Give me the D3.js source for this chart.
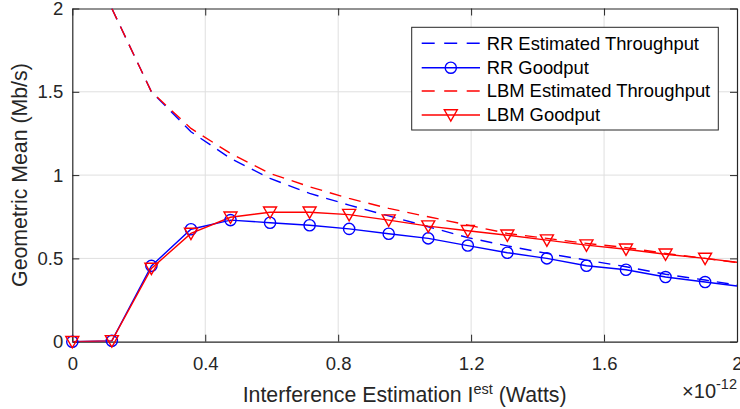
<!DOCTYPE html>
<html>
<head>
<meta charset="utf-8">
<script src="https://cdn.jsdelivr.net/npm/d3@7"></script>
<style>
  html, body { margin: 0; padding: 0; background: #fff; }
  svg { display: block; font-family: "Liberation Sans", Arial, Helvetica, sans-serif; }
</style>
</head>
<body>
<svg id="chart" width="740" height="409"></svg>
<script>
// ---- Data (x in units of 1e-12 Watts, y in Mb/s) ----
const xMarkers = [0, 0.119, 0.238, 0.357, 0.476, 0.595, 0.714, 0.833, 0.952, 1.071, 1.19, 1.309, 1.428, 1.547, 1.666, 1.785, 1.904];
const xEnd = 2;
const rrGoodput  = [0, 0.005, 0.455, 0.675, 0.73, 0.714, 0.699, 0.677, 0.648, 0.62, 0.577, 0.534, 0.50, 0.456, 0.432, 0.388, 0.358, 0.334];
const lbmGoodput = [0, 0.005, 0.44, 0.65, 0.747, 0.777, 0.777, 0.763, 0.73, 0.694, 0.666, 0.639, 0.61, 0.58, 0.555, 0.525, 0.50, 0.477];
// estimated throughput series start at the second x value
const rrEstimated  = [2.0, 1.5, 1.26, 1.10, 0.98, 0.89, 0.82, 0.755, 0.69, 0.625, 0.575, 0.53, 0.49, 0.45, 0.405, 0.37, 0.34];
const lbmEstimated = [2.0, 1.5, 1.28, 1.13, 1.01, 0.93, 0.86, 0.80, 0.75, 0.70, 0.65, 0.62, 0.59, 0.565, 0.53, 0.50, 0.475];
const xTicks = [0, 0.4, 0.8, 1.2, 1.6, 2];
const yTicks = [0, 0.5, 1, 1.5, 2];
const legendLabels = ["RR Estimated Throughput", "RR Goodput", "LBM Estimated Throughput", "LBM Goodput"];

// ---- Layout ----
const svg = d3.select("#chart");
const L = 72.3, R = 737, T = 8.5, B = 341.7;
const x = d3.scaleLinear().domain([0, 2]).range([L, R]);
const y = d3.scaleLinear().domain([0, 2]).range([B, T]);
const axisColor = "#262626";
const BLUE = "#0000ff", RED = "#ff0000";

const xLine = xMarkers.concat([xEnd]);
const mk = (xs, ys) => ys.map((v, i) => [xs[i], v]);
const rrG = mk(xLine, rrGoodput);
const lbmG = mk(xLine, lbmGoodput);
const rrE = mk(xLine.slice(1), rrEstimated);
const lbmE = mk(xLine.slice(1), lbmEstimated);

// clip
svg.append("defs").append("clipPath").attr("id", "clip")
  .append("rect").attr("x", L).attr("y", T).attr("width", R - L).attr("height", B - T);

// grid
const grid = svg.append("g");
grid.selectAll("line.gx").data(xTicks.slice(1, -1)).enter().append("line")
  .attr("x1", d => x(d)).attr("x2", d => x(d)).attr("y1", T).attr("y2", B)
  .attr("stroke", "#dfdfdf").attr("stroke-width", 1);
grid.selectAll("line.gy").data(yTicks.slice(1, -1)).enter().append("line")
  .attr("y1", d => y(d)).attr("y2", d => y(d)).attr("x1", L).attr("x2", R)
  .attr("stroke", "#dfdfdf").attr("stroke-width", 1);

// axes with inward ticks
const fmt = d => d === 0 ? "0" : (d === 2 ? "2" : d3.format("")(d));
const xAxis = svg.append("g").attr("transform", `translate(0,${B})`)
  .call(d3.axisBottom(x).tickValues(xTicks).tickSizeInner(-7).tickSizeOuter(0).tickPadding(16).tickFormat(fmt));
const yAxis = svg.append("g").attr("transform", `translate(${L},0)`)
  .call(d3.axisLeft(y).tickValues(yTicks).tickSizeInner(-7).tickSizeOuter(0).tickPadding(16).tickFormat(fmt));
const xTop = svg.append("g").attr("transform", `translate(0,${T})`)
  .call(d3.axisTop(x).tickValues(xTicks).tickSizeInner(-7).tickSizeOuter(0).tickFormat(""));
const yRight = svg.append("g").attr("transform", `translate(${R},0)`)
  .call(d3.axisRight(y).tickValues(yTicks).tickSizeInner(-7).tickSizeOuter(0).tickFormat(""));
[xAxis, yAxis, xTop, yRight].forEach(g => {
  g.select(".domain").attr("stroke", axisColor).attr("stroke-width", 1.2);
  g.selectAll(".tick line").attr("stroke", axisColor).attr("stroke-width", 1);
  g.selectAll(".tick text").attr("fill", "#262626").style("font-size", "18.5px")
    .style("font-family", "'Liberation Sans', Arial, sans-serif");
});
xAxis.selectAll(".tick text").attr("dy", "0.71em").attr("y", 15);
yAxis.selectAll(".tick text").attr("x", -9);

// lines
const line = d3.line().x(d => x(d[0])).y(d => y(d[1]));
const plot = svg.append("g").attr("clip-path", "url(#clip)");
const dash = "12,8";

plot.append("path").datum(rrE).attr("d", line).attr("fill", "none")
  .attr("stroke", BLUE).attr("stroke-width", 1.4).attr("stroke-dasharray", dash);
plot.append("path").datum(rrG).attr("d", line).attr("fill", "none")
  .attr("stroke", BLUE).attr("stroke-width", 1.4);
plot.append("path").datum(lbmE).attr("d", line).attr("fill", "none")
  .attr("stroke", RED).attr("stroke-width", 1.4).attr("stroke-dasharray", dash);
plot.append("path").datum(lbmG).attr("d", line).attr("fill", "none")
  .attr("stroke", RED).attr("stroke-width", 1.4);

const markers = svg.append("g");
function circleMarker(g, cx, cy) {
  g.append("circle").attr("cx", cx).attr("cy", cy).attr("r", 5.6)
    .attr("fill", "none").attr("stroke", BLUE).attr("stroke-width", 1.4);
}
function triMarker(g, cx, cy) {
  const s = 6.5;
  g.append("path")
    .attr("d", `M${cx - s},${cy - s * 0.8} L${cx + s},${cy - s * 0.8} L${cx},${cy + s * 0.95} Z`)
    .attr("fill", "none").attr("stroke", RED).attr("stroke-width", 1.4);
}
rrG.slice(0, xMarkers.length).forEach(d => circleMarker(markers, x(d[0]), y(d[1])));
lbmG.slice(0, xMarkers.length).forEach(d => triMarker(markers, x(d[0]), y(d[1])));

// axis labels
svg.append("text").attr("x", (L + R) / 2).attr("y", 401.7).attr("text-anchor", "middle")
  .attr("fill", "#262626").style("font-size", "21.3px")
  .html('Interference Estimation I<tspan dy="-8" font-size="14.5px">est</tspan><tspan dy="8"> (Watts)</tspan>');
svg.append("text").attr("transform", `translate(27,${(T + B) / 2}) rotate(-90)`)
  .attr("text-anchor", "middle").attr("fill", "#262626").style("font-size", "21.3px")
  .text("Geometric Mean (Mb/s)");
// exponent
svg.append("text").attr("x", R).attr("y", 398).attr("text-anchor", "end")
  .attr("fill", "#262626").style("font-size", "20px")
  .html('×10<tspan dy="-9" font-size="14.5px">-12</tspan>');

// legend
const lg = svg.append("g");
lg.append("rect").attr("x", 411.7).attr("y", 27.3).attr("width", 306.6).attr("height", 102.7)
  .attr("fill", "#fff").attr("stroke", axisColor).attr("stroke-width", 1);
const rowsY = [43.3, 67.7, 91, 115];
const styles = [
  {c: BLUE, d: dash, m: null},
  {c: BLUE, d: null, m: "o"},
  {c: RED, d: dash, m: null},
  {c: RED, d: null, m: "v"}
];
legendLabels.forEach((lab, i) => {
  const yy = rowsY[i], st = styles[i];
  lg.append("line").attr("x1", 421.7).attr("x2", 480).attr("y1", yy).attr("y2", yy)
    .attr("stroke", st.c).attr("stroke-width", 1.4).attr("stroke-dasharray", st.d ? "13,9.5" : null);
  if (st.m === "o") circleMarker(lg, 450.8, yy);
  if (st.m === "v") triMarker(lg, 450.8, yy);
  lg.append("text").attr("x", 486.7).attr("y", yy).attr("dy", "0.35em")
    .attr("fill", "#000").style("font-size", "18.4px").text(lab);
});
</script>
</body>
</html>
